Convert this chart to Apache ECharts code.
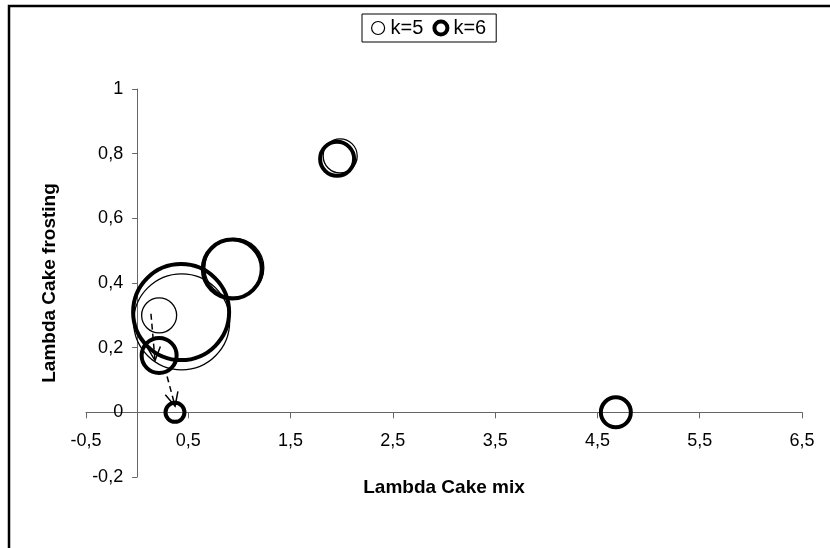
<!DOCTYPE html>
<html>
<head>
<meta charset="utf-8">
<script src="https://cdn.jsdelivr.net/npm/echarts@6/dist/echarts.min.js"></script>
<style>html,body{margin:0;padding:0;background:#fff}#c{width:830px;height:548px}</style>
</head>
<body>
<div id="c"></div>
<script>
// ---- data ----
var seriesNames = ['k=5', 'k=6'];
var k5X = [0.435, 0.95, 1.985, 0.215, 0.37, 4.68];
var k5Y = [0.28, 0.447, 0.793, 0.30, 0.0, 0.0];
var k5Size = [4.8, 2.95, 1.7, 1.75, 0.95, 1.5];
var k6X = [0.43, 0.93, 1.955, 0.215, 0.37, 4.68];
var k6Y = [0.31, 0.443, 0.784, 0.176, 0.0, 0.0];
var k6Size = [4.8, 2.95, 1.7, 1.75, 0.95, 1.5];
// dashed arrows
var arrowFromX = [0.135, 0.293];
var arrowFromY = [0.305, 0.111];
var arrowToX = [0.175, 0.371];
var arrowToY = [0.16, 0.019];
var xTickValues = [-0.5, 0.5, 1.5, 2.5, 3.5, 4.5, 5.5, 6.5];
var xTickLabels = ['-0,5', '0,5', '1,5', '2,5', '3,5', '4,5', '5,5', '6,5'];
var yTickValues = [-0.2, 0, 0.2, 0.4, 0.6, 0.8, 1];
var yTickLabels = ['-0,2', '0', '0,2', '0,4', '0,6', '0,8', '1'];
var xName = 'Lambda Cake mix';
var yName = 'Lambda Cake frosting';
var X_MIN = -0.5, X_MAX = 6.5, Y_MIN = -0.2, Y_MAX = 1;

function zip3(a, b, c) { return a.map(function (v, i) { return [v, b[i], c[i]]; }); }
function lookup(vals, labels, v) {
  for (var i = 0; i < vals.length; i++) if (Math.abs(vals[i] - v) < 1e-6) return labels[i];
  return '';
}
var SCALE = 20;
var FONT = '"Liberation Sans", Arial, sans-serif';
var W = 830, H = 548;
var G = { left: 86, right: 28, top: 89, bottom: 71 };
// axes cross at zero: shift each axis from its grid edge to the zero of the other axis
var gw = W - G.left - G.right, gh = H - G.top - G.bottom;
var yAxisOffset = -gw * (0 - X_MIN) / (X_MAX - X_MIN);
var xAxisOffset = -gh * (0 - Y_MIN) / (Y_MAX - Y_MIN);

var chart = echarts.init(document.getElementById('c'), null, { renderer: 'canvas' });
chart.setOption({
  animation: false,
  backgroundColor: '#fff',
  graphic: [{
    type: 'rect', shape: { x: 9, y: 6, width: 1000, height: 1000 },
    style: { fill: 'none', stroke: '#000', lineWidth: 2.5 }, silent: true, z: 100
  }],
  legend: {
    data: [
      { name: seriesNames[0], itemStyle: { color: 'rgba(0,0,0,0)', borderColor: '#000', borderWidth: 1.2, opacity: 1 } },
      { name: seriesNames[1], itemStyle: { color: 'rgba(0,0,0,0)', borderColor: '#000', borderWidth: 4, opacity: 1 } }
    ],
    left: 362, top: 14,
    padding: [4, 10, 4, 9],
    itemGap: 9, itemWidth: 13, itemHeight: 13,
    borderColor: '#000', borderWidth: 1,
    textStyle: { fontFamily: FONT, fontSize: 20, color: '#000', padding: [0, 0, 0, 1] },
    selectedMode: false
  },
  grid: { left: G.left, right: G.right, top: G.top, bottom: G.bottom, containLabel: false, outerBoundsMode: 'none' },
  xAxis: {
    type: 'value', min: X_MIN, max: X_MAX, interval: 1,
    offset: xAxisOffset,
    splitLine: { show: false },
    axisLine: { onZero: false, lineStyle: { color: '#666', width: 1 } },
    axisTick: { show: true, inside: false, length: 6, lineStyle: { color: '#666' } },
    axisLabel: {
      margin: 20, fontFamily: FONT, fontSize: 18, color: '#000',
      formatter: function (v) { return lookup(xTickValues, xTickLabels, v); }
    },
    name: xName, nameLocation: 'middle', nameGap: 66,
    nameTextStyle: { fontFamily: FONT, fontSize: 19, fontWeight: 'bold', color: '#000' }
  },
  yAxis: {
    type: 'value', min: Y_MIN, max: Y_MAX, interval: 0.2,
    offset: yAxisOffset,
    splitLine: { show: false },
    axisLine: { onZero: false, lineStyle: { color: '#666', width: 1 } },
    axisTick: { show: true, inside: false, length: 5, lineStyle: { color: '#666' } },
    axisLabel: {
      margin: 14, fontFamily: FONT, fontSize: 18, color: '#000',
      formatter: function (v) { return lookup(yTickValues, yTickLabels, v); }
    },
    name: yName, nameLocation: 'middle', nameGap: 78, nameRotate: 90,
    nameTextStyle: { fontFamily: FONT, fontSize: 19, fontWeight: 'bold', color: '#000' }
  },
  series: [
    {
      name: seriesNames[0], type: 'scatter',
      data: zip3(k5X, k5Y, k5Size),
      symbol: 'circle',
      symbolSize: function (d) { return d[2] * SCALE; },
      itemStyle: { color: 'rgba(0,0,0,0)', borderColor: '#000', borderWidth: 1.3, opacity: 1 },
      emphasis: { disabled: true }, z: 2
    },
    {
      name: seriesNames[1], type: 'scatter',
      data: zip3(k6X, k6Y, k6Size),
      symbol: 'circle',
      symbolSize: function (d) { return d[2] * SCALE; },
      itemStyle: { color: 'rgba(0,0,0,0)', borderColor: '#000', borderWidth: 4, opacity: 1 },
      emphasis: { disabled: true }, z: 3
    },
    {
      type: 'custom', name: 'arrows',
      data: arrowFromX.map(function (v, i) { return [v, arrowFromY[i], arrowToX[i], arrowToY[i]]; }),
      renderItem: function (params, api) {
        var p0 = api.coord([api.value(0), api.value(1)]);
        var p1 = api.coord([api.value(2), api.value(3)]);
        var ang = Math.atan2(p1[1] - p0[1], p1[0] - p0[0]);
        var L = 15, a = 0.45;
        var h1 = [p1[0] - L * Math.cos(ang - a), p1[1] - L * Math.sin(ang - a)];
        var h2 = [p1[0] - L * Math.cos(ang + a), p1[1] - L * Math.sin(ang + a)];
        return {
          type: 'group', children: [
            { type: 'line', shape: { x1: p0[0], y1: p0[1], x2: p1[0], y2: p1[1] },
              style: { stroke: '#000', lineWidth: 1.5, lineDash: [6, 4] } },
            { type: 'polyline', shape: { points: [h1, p1, h2] },
              style: { stroke: '#000', lineWidth: 1.5, fill: null } }
          ]
        };
      },
      silent: true, z: 4
    }
  ]
});
</script>
</body>
</html>
